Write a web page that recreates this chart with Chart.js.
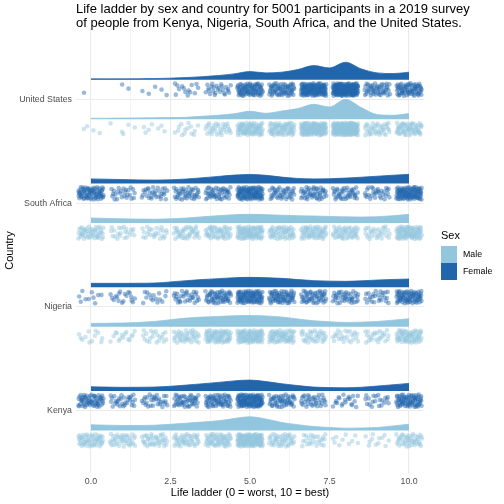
<!DOCTYPE html>
<html>
<head>
<meta charset="utf-8">
<script src="https://cdn.jsdelivr.net/npm/chart.js@4.4.1/dist/chart.umd.min.js"></script>
<style>
  html, body { margin: 0; padding: 0; background: #fff; }
</style>
</head>
<body>
<canvas id="chart" width="504" height="504"></canvas>
<script>
// categories (bottom to top) and groups
const countries = ['Kenya', 'Nigeria', 'South Africa', 'United States'];
const sexes = ['Male', 'Female'];
const scores = [0, 1, 2, 3, 4, 5, 6, 7, 8, 9, 10];

// x ticks
const xTickValues = [0, 2.5, 5, 7.5, 10];
const xTickLabels = ['0.0', '2.5', '5.0', '7.5', '10.0'];
const xMinorValues = [1.25, 3.75, 6.25, 8.75];

// number of participants at each ladder score
const kenyaMaleCounts     = [55, 40, 40, 45, 60, 130, 45, 25, 10, 12, 45];
const kenyaFemaleCounts   = [60, 30, 30, 45, 60, 115, 50, 35, 20, 20, 75];
const nigeriaMaleCounts   = [12, 15, 20, 40, 70, 90, 65, 35, 25, 25, 65];
const nigeriaFemaleCounts = [10, 18, 15, 30, 55, 90, 65, 50, 40, 25, 75];
const safricaMaleCounts   = [50, 22, 25, 40, 50, 85, 55, 60, 50, 30, 85];
const safricaFemaleCounts = [75, 25, 30, 40, 45, 100, 40, 45, 40, 30, 100];
const usMaleCounts        = [4, 5, 7, 14, 32, 80, 70, 120, 170, 40, 60];
const usFemaleCounts      = [1, 2, 5, 14, 25, 80, 65, 125, 160, 50, 70];

// density curves, sampled every half step (height x100)
const densityX = [0, 0.5, 1, 1.5, 2, 2.5, 3, 3.5, 4, 4.5, 5, 5.5, 6, 6.5, 7, 7.5, 8, 8.5, 9, 9.5, 10];
const kenyaMaleDensity     = [5.7, 5.3, 5.0, 5.0, 5.3, 6.2, 7.3, 8.5, 9.7, 12, 13.7, 11.5, 8.0, 5.8, 4.0, 3.0, 2.3, 2.5, 3.0, 4.5, 6.3];
const kenyaFemaleDensity   = [4.3, 4.0, 3.7, 3.8, 4.0, 4.8, 6.0, 7.3, 8.7, 10.2, 11, 9.5, 7.3, 5.5, 4.0, 3.5, 3.3, 3.8, 5.0, 6.3, 7.7];
const nigeriaMaleDensity   = [3.3, 3.5, 3.7, 4.3, 5.3, 7.0, 8.7, 9.7, 10.3, 11, 11.3, 10.8, 9.7, 7.8, 6.0, 5.0, 4.3, 4.6, 5.3, 6.6, 8.0];
const nigeriaFemaleDensity = [4.0, 4.0, 4.0, 4.1, 4.3, 5.4, 6.7, 7.8, 8.7, 9.6, 10, 9.7, 9.0, 7.8, 6.7, 6.2, 6.0, 6.5, 7.3, 7.9, 8.3];
const safricaMaleDensity   = [5.0, 4.6, 4.2, 3.9, 3.8, 4.2, 5.0, 6.2, 7.4, 8.3, 8.7, 8.4, 7.8, 7.3, 7.0, 6.6, 6.2, 6.0, 6.3, 7.3, 8.7];
const safricaFemaleDensity = [4.7, 4.4, 4.0, 3.7, 3.5, 3.8, 4.6, 5.8, 7.2, 8.5, 9.2, 8.3, 6.5, 5.2, 4.7, 4.9, 5.5, 6.4, 7.4, 8.4, 9.3];
const usMaleDensity        = [1.0, 1.0, 1.2, 1.3, 1.5, 1.7, 2.0, 3.0, 4.0, 5.5, 8.0, 6.0, 8.3, 10.7, 15, 12.3, 20, 11.7, 4.7, 4.0, 5.7];
const usFemaleDensity      = [1.0, 1.0, 1.0, 1.1, 1.3, 1.7, 2.3, 3.2, 4.3, 6.0, 8.3, 7.0, 7.7, 10.3, 14.3, 12, 17.7, 11, 7.0, 6.3, 7.7];

const colors = { Male: '#92c5de', Female: '#2166ac' };
const pointColors = { Male: 'rgba(146,197,222,0.45)', Female: 'rgba(33,102,172,0.45)' };

const groups = [
  { country: 0, sex: 'Male',   counts: kenyaMaleCounts,     dens: kenyaMaleDensity },
  { country: 0, sex: 'Female', counts: kenyaFemaleCounts,   dens: kenyaFemaleDensity },
  { country: 1, sex: 'Male',   counts: nigeriaMaleCounts,   dens: nigeriaMaleDensity },
  { country: 1, sex: 'Female', counts: nigeriaFemaleCounts, dens: nigeriaFemaleDensity },
  { country: 2, sex: 'Male',   counts: safricaMaleCounts,   dens: safricaMaleDensity },
  { country: 2, sex: 'Female', counts: safricaFemaleCounts, dens: safricaFemaleDensity },
  { country: 3, sex: 'Male',   counts: usMaleCounts,        dens: usMaleDensity },
  { country: 3, sex: 'Female', counts: usFemaleCounts,      dens: usFemaleDensity }
];

// layout of a raincloud row (y units, 1 = distance between countries)
const DODGE = 0.19;     // ridge baseline offset from the country line
const RAIN_GAP = 0.094; // points sit this far below their ridge baseline
const JIT_X = 0.4;
const JIT_Y = 0.06;
const DENS_SCALE = 1 / 104;

// van der Corput / Halton value, used for an even, non-random jitter
function halton(i, b) {
  let f = 1, r = 0;
  while (i > 0) { f /= b; r += f * (i % b); i = Math.floor(i / b); }
  return r;
}

function jitter(counts, centre, start) {
  const pts = [];
  let k = start;
  counts.forEach((n, i) => {
    for (let j = 0; j < n; j++, k++) {
      const u = halton(k, 2);
      const v = halton(k, 3);
      pts.push({ x: scores[i] + (u - 0.5) * 2 * JIT_X, y: centre + (v - 0.5) * 2 * JIT_Y });
    }
  });
  return pts;
}

const datasets = [];
groups.forEach((g, gi) => {
  const base = (g.country + 1) + (g.sex === 'Female' ? DODGE : -DODGE);
  datasets.push({
    type: 'line',
    data: densityX.map((x, i) => ({ x: x, y: base + g.dens[i] * DENS_SCALE })),
    borderColor: colors[g.sex],
    backgroundColor: colors[g.sex],
    borderWidth: 0.8,
    pointRadius: 0,
    cubicInterpolationMode: 'monotone',
    fill: { value: base },
    order: 2
  });
  datasets.push({
    type: 'scatter',
    data: jitter(g.counts, base - RAIN_GAP, 7 + gi * 131),
    backgroundColor: pointColors[g.sex],
    borderWidth: 0,
    pointRadius: 2.3,
    order: 1
  });
});

const FONT = '"Liberation Sans", Arial, sans-serif';

const decorations = {
  id: 'decorations',
  afterDraw(chart) {
    const ctx = chart.ctx;
    ctx.save();
    ctx.fillStyle = '#000';
    ctx.font = '13px ' + FONT;
    ctx.textAlign = 'left';
    ctx.textBaseline = 'alphabetic';
    ctx.fillText('Life ladder by sex and country for 5001 participants in a 2019 survey', 76, 13);
    ctx.fillText('of people from Kenya, Nigeria, South Africa, and the United States.', 76, 27);

    // legend
    ctx.font = '11px ' + FONT;
    ctx.fillText('Sex', 441, 238.5);
    sexes.forEach((s, i) => {
      ctx.fillStyle = colors[s];
      ctx.fillRect(441, 246 + i * 17, 16, 17);
      ctx.fillStyle = '#000';
      ctx.font = '8.8px ' + FONT;
      ctx.textBaseline = 'middle';
      ctx.fillText(s, 463, 254.5 + i * 17);
    });
    ctx.restore();
  }
};

new Chart(document.getElementById('chart'), {
  type: 'scatter',
  data: { datasets: datasets },
  options: {
    responsive: false,
    animation: false,
    events: [],
    layout: { padding: { top: 28, right: 80, left: 0, bottom: 0 } },
    plugins: { legend: { display: false }, tooltip: { enabled: false }, title: { display: false } },
    scales: {
      x: {
        type: 'linear',
        min: -0.47,
        max: 10.47,
        afterFit: s => { s.height = 31; },
        afterBuildTicks: s => {
          s.ticks = xTickValues.concat(xMinorValues).sort((a, b) => a - b).map(v => ({ value: v }));
        },
        ticks: {
          autoSkip: false,
          maxRotation: 0,
          padding: 3,
          color: '#4d4d4d',
          font: { family: FONT, size: 8.8 },
          callback: v => {
            const i = xTickValues.indexOf(v);
            return i >= 0 ? xTickLabels[i] : '';
          }
        },
        grid: {
          drawTicks: false,
          color: '#ebebeb',
          lineWidth: c => (c.tick && xTickValues.includes(c.tick.value)) ? 1.1 : 0.55
        },
        border: { display: false },
        title: {
          display: true,
          text: 'Life ladder (0 = worst, 10 = best)',
          color: '#000',
          font: { family: FONT, size: 11 },
          padding: { top: 0, bottom: 4 }
        }
      },
      y: {
        type: 'linear',
        min: 0.4,
        max: 4.69,
        afterFit: s => { s.width = 76; },
        afterBuildTicks: s => {
          s.ticks = countries.map((c, i) => ({ value: i + 1 }));
        },
        ticks: {
          autoSkip: false,
          padding: 4,
          color: '#4d4d4d',
          font: { family: FONT, size: 8.8 },
          callback: v => countries[v - 1]
        },
        grid: { drawTicks: false, color: '#ebebeb', lineWidth: 1.1 },
        border: { display: false },
        title: {
          display: true,
          text: 'Country',
          color: '#000',
          font: { family: FONT, size: 11 },
          padding: { top: 3, bottom: 0 }
        }
      }
    }
  },
  plugins: [decorations]
});
</script>
</body>
</html>
